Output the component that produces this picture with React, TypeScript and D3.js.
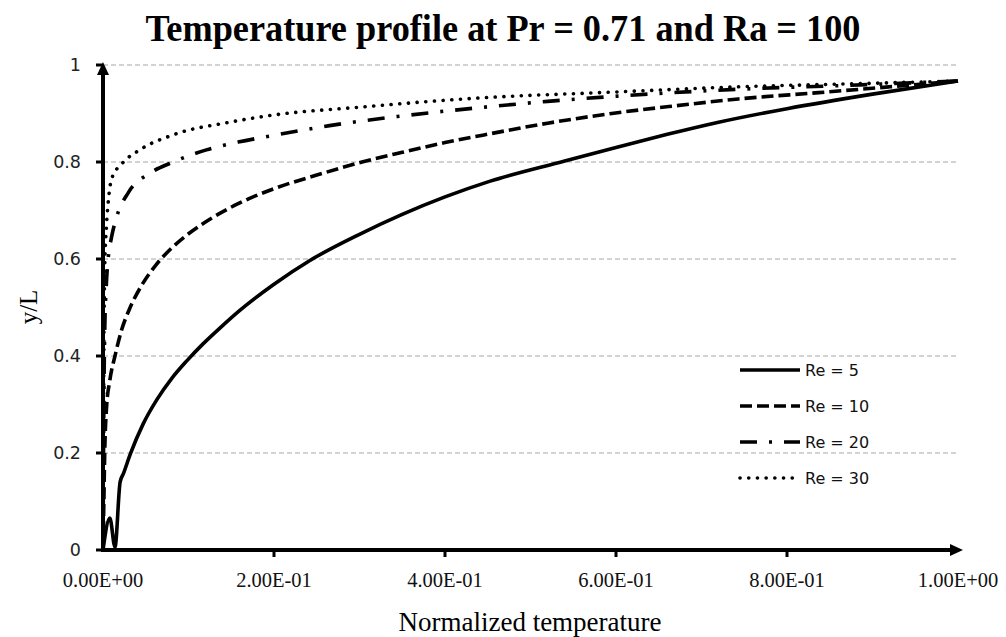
import React from 'react';
import * as d3 from 'd3';

type Pt = [number, number];

const seriesLabels = ['Re = 5', 'Re = 10', 'Re = 20', 'Re = 30'];

// [normalized temperature, y/L]
const re5: Pt[] = [
  [0, 0], [0.008, 0.066], [0.014, 0.006], [0.02, 0.14], [0.024, 0.158], [0.032, 0.198],
  [0.047, 0.26], [0.063, 0.31], [0.08, 0.353], [0.098, 0.39], [0.117, 0.425], [0.137, 0.458],
  [0.16, 0.494], [0.2, 0.548], [0.242, 0.597], [0.3, 0.651], [0.35, 0.692], [0.4, 0.728],
  [0.452, 0.76], [0.54, 0.802], [0.6, 0.83], [0.66, 0.857], [0.72, 0.882], [0.8, 0.91],
  [0.9, 0.94], [1.0, 0.967],
];
const re10: Pt[] = [
  [0, 0], [0.001, 0.1], [0.002, 0.2], [0.004, 0.29], [0.008, 0.35], [0.014, 0.4],
  [0.022, 0.455], [0.031, 0.497], [0.045, 0.545], [0.063, 0.59], [0.08, 0.622], [0.1, 0.652],
  [0.125, 0.682], [0.158, 0.714], [0.2, 0.745], [0.25, 0.773], [0.303, 0.8], [0.35, 0.82],
  [0.4, 0.84], [0.452, 0.858], [0.52, 0.88], [0.595, 0.9], [0.67, 0.916], [0.743, 0.93],
  [0.837, 0.943], [0.92, 0.955], [1.0, 0.967],
];
const re20: Pt[] = [
  [0, 0], [0.001, 0.3], [0.002, 0.45], [0.004, 0.55], [0.006, 0.6], [0.01, 0.645],
  [0.016, 0.687], [0.03, 0.738], [0.055, 0.777], [0.082, 0.8], [0.121, 0.825], [0.158, 0.841],
  [0.2, 0.855], [0.265, 0.875], [0.35, 0.895], [0.44, 0.912], [0.52, 0.925], [0.603, 0.936],
  [0.743, 0.95], [0.87, 0.958], [1.0, 0.967],
];
const re30: Pt[] = [
  [0, 0], [0.001, 0.4], [0.002, 0.58], [0.004, 0.667], [0.006, 0.715], [0.01, 0.765],
  [0.023, 0.798], [0.043, 0.825], [0.082, 0.856], [0.148, 0.882], [0.2, 0.897], [0.3, 0.913],
  [0.44, 0.932], [0.595, 0.944], [0.743, 0.955], [0.87, 0.961], [1.0, 0.967],
];

const seriesData = [re5, re10, re20, re30];
const seriesDash = ['none', '12,5', '17,12,3,12', '0.1,8.6'];
const seriesCap = ['butt', 'butt', 'butt', 'round'];

const xTicks = [0, 0.2, 0.4, 0.6, 0.8, 1];
const xTickLabels = ['0.00E+00', '2.00E-01', '4.00E-01', '6.00E-01', '8.00E-01', '1.00E+00'];
const yTicks = [0, 0.2, 0.4, 0.6, 0.8, 1];
const yTickLabels = ['0', '0.2', '0.4', '0.6', '0.8', '1'];

const titleText = 'Temperature profile at Pr = 0.71 and Ra = 100';
const xLabel = 'Normalized temperature';
const yLabel = 'y/L';

export default function App() {
  const W = 1006, H = 637;
  const x = d3.scaleLinear().domain([0, 1]).range([103, 958]);
  const y = d3.scaleLinear().domain([0, 1]).range([550, 65]);
  const line = d3.line<Pt>().x(d => x(d[0])).y(d => y(d[1])).curve(d3.curveMonotoneX);

  const serif = '"Liberation Serif", "Times New Roman", serif';
  const sans = '"DejaVu Sans", Verdana, sans-serif';
  const legendY = [370, 406, 442, 478];

  return (
    <svg width={W} height={H} style={{ position: 'absolute', left: 0, top: 0, background: '#fff' }}>
      <rect width={W} height={H} fill="#fff" />
      {/* gridlines */}
      {yTicks.filter(t => t > 0).map(t => (
        <line key={'g' + t} x1={x(0)} x2={x(1)} y1={y(t)} y2={y(t)} stroke="#a6a6a6" strokeWidth={1} strokeDasharray="5,3" />
      ))}
      {/* title */}
      <text x={503} y={41} textAnchor="middle" fontFamily={serif} fontWeight="bold" fontSize={38}
        textLength={715} lengthAdjust="spacingAndGlyphs">{titleText}</text>
      {/* series */}
      {seriesData.map((d, i) => (
        <path key={'s' + i} d={line(d) || ''} fill="none" stroke="#000" strokeWidth={3.6}
          strokeDasharray={seriesDash[i]} strokeLinecap={seriesCap[i] as any} strokeLinejoin="round" />
      ))}
      {/* axes */}
      <line x1={x(0)} x2={x(0)} y1={y(0) + 2} y2={y(1) + 6} stroke="#000" strokeWidth={4} />
      <path d={`M${x(0)},${y(1) - 3} L${x(0) - 6},${y(1) + 10} L${x(0) + 6},${y(1) + 10} Z`} fill="#000" />
      <line x1={x(0) - 2} x2={x(1) - 2} y1={y(0)} y2={y(0)} stroke="#000" strokeWidth={4} />
      <path d={`M${x(1) + 5},${y(0)} L${x(1) - 8},${y(0) - 6} L${x(1) - 8},${y(0) + 6} Z`} fill="#000" />
      {/* y ticks */}
      {yTicks.map((t, i) => (
        <g key={'yt' + t}>
          <line x1={x(0) - 7} x2={x(0)} y1={y(t)} y2={y(t)} stroke="#000" strokeWidth={3} />
          <text x={81} y={y(t)} dy="0.36em" textAnchor="end" fontFamily={sans} fontSize={17.5} fill="#222">{yTickLabels[i]}</text>
        </g>
      ))}
      {/* x ticks */}
      {xTicks.map((t, i) => (
        <g key={'xt' + t}>
          {t > 0 && t < 1 && <line x1={x(t)} x2={x(t)} y1={y(0)} y2={y(0) + 7} stroke="#000" strokeWidth={3} />}
          <text x={x(t)} y={587} textAnchor="middle" fontFamily={serif} fontSize={20.5} fill="#111">{xTickLabels[i]}</text>
        </g>
      ))}
      {/* axis labels */}
      <text x={530} y={631} textAnchor="middle" fontFamily={serif} fontSize={27}>{xLabel}</text>
      <text transform="translate(37,307) rotate(-90)" textAnchor="middle" fontFamily={serif} fontSize={25}>{yLabel}</text>
      {/* legend */}
      {seriesLabels.map((s, i) => (
        <g key={'l' + i}>
          <line x1={740} x2={800} y1={legendY[i]} y2={legendY[i]} stroke="#000" strokeWidth={3.6}
            strokeDasharray={seriesDash[i]} strokeLinecap={seriesCap[i] as any} />
          <text x={805} y={legendY[i]} dy="0.36em" fontFamily={sans} fontSize={16} fill="#111">{s}</text>
        </g>
      ))}
    </svg>
  );
}
